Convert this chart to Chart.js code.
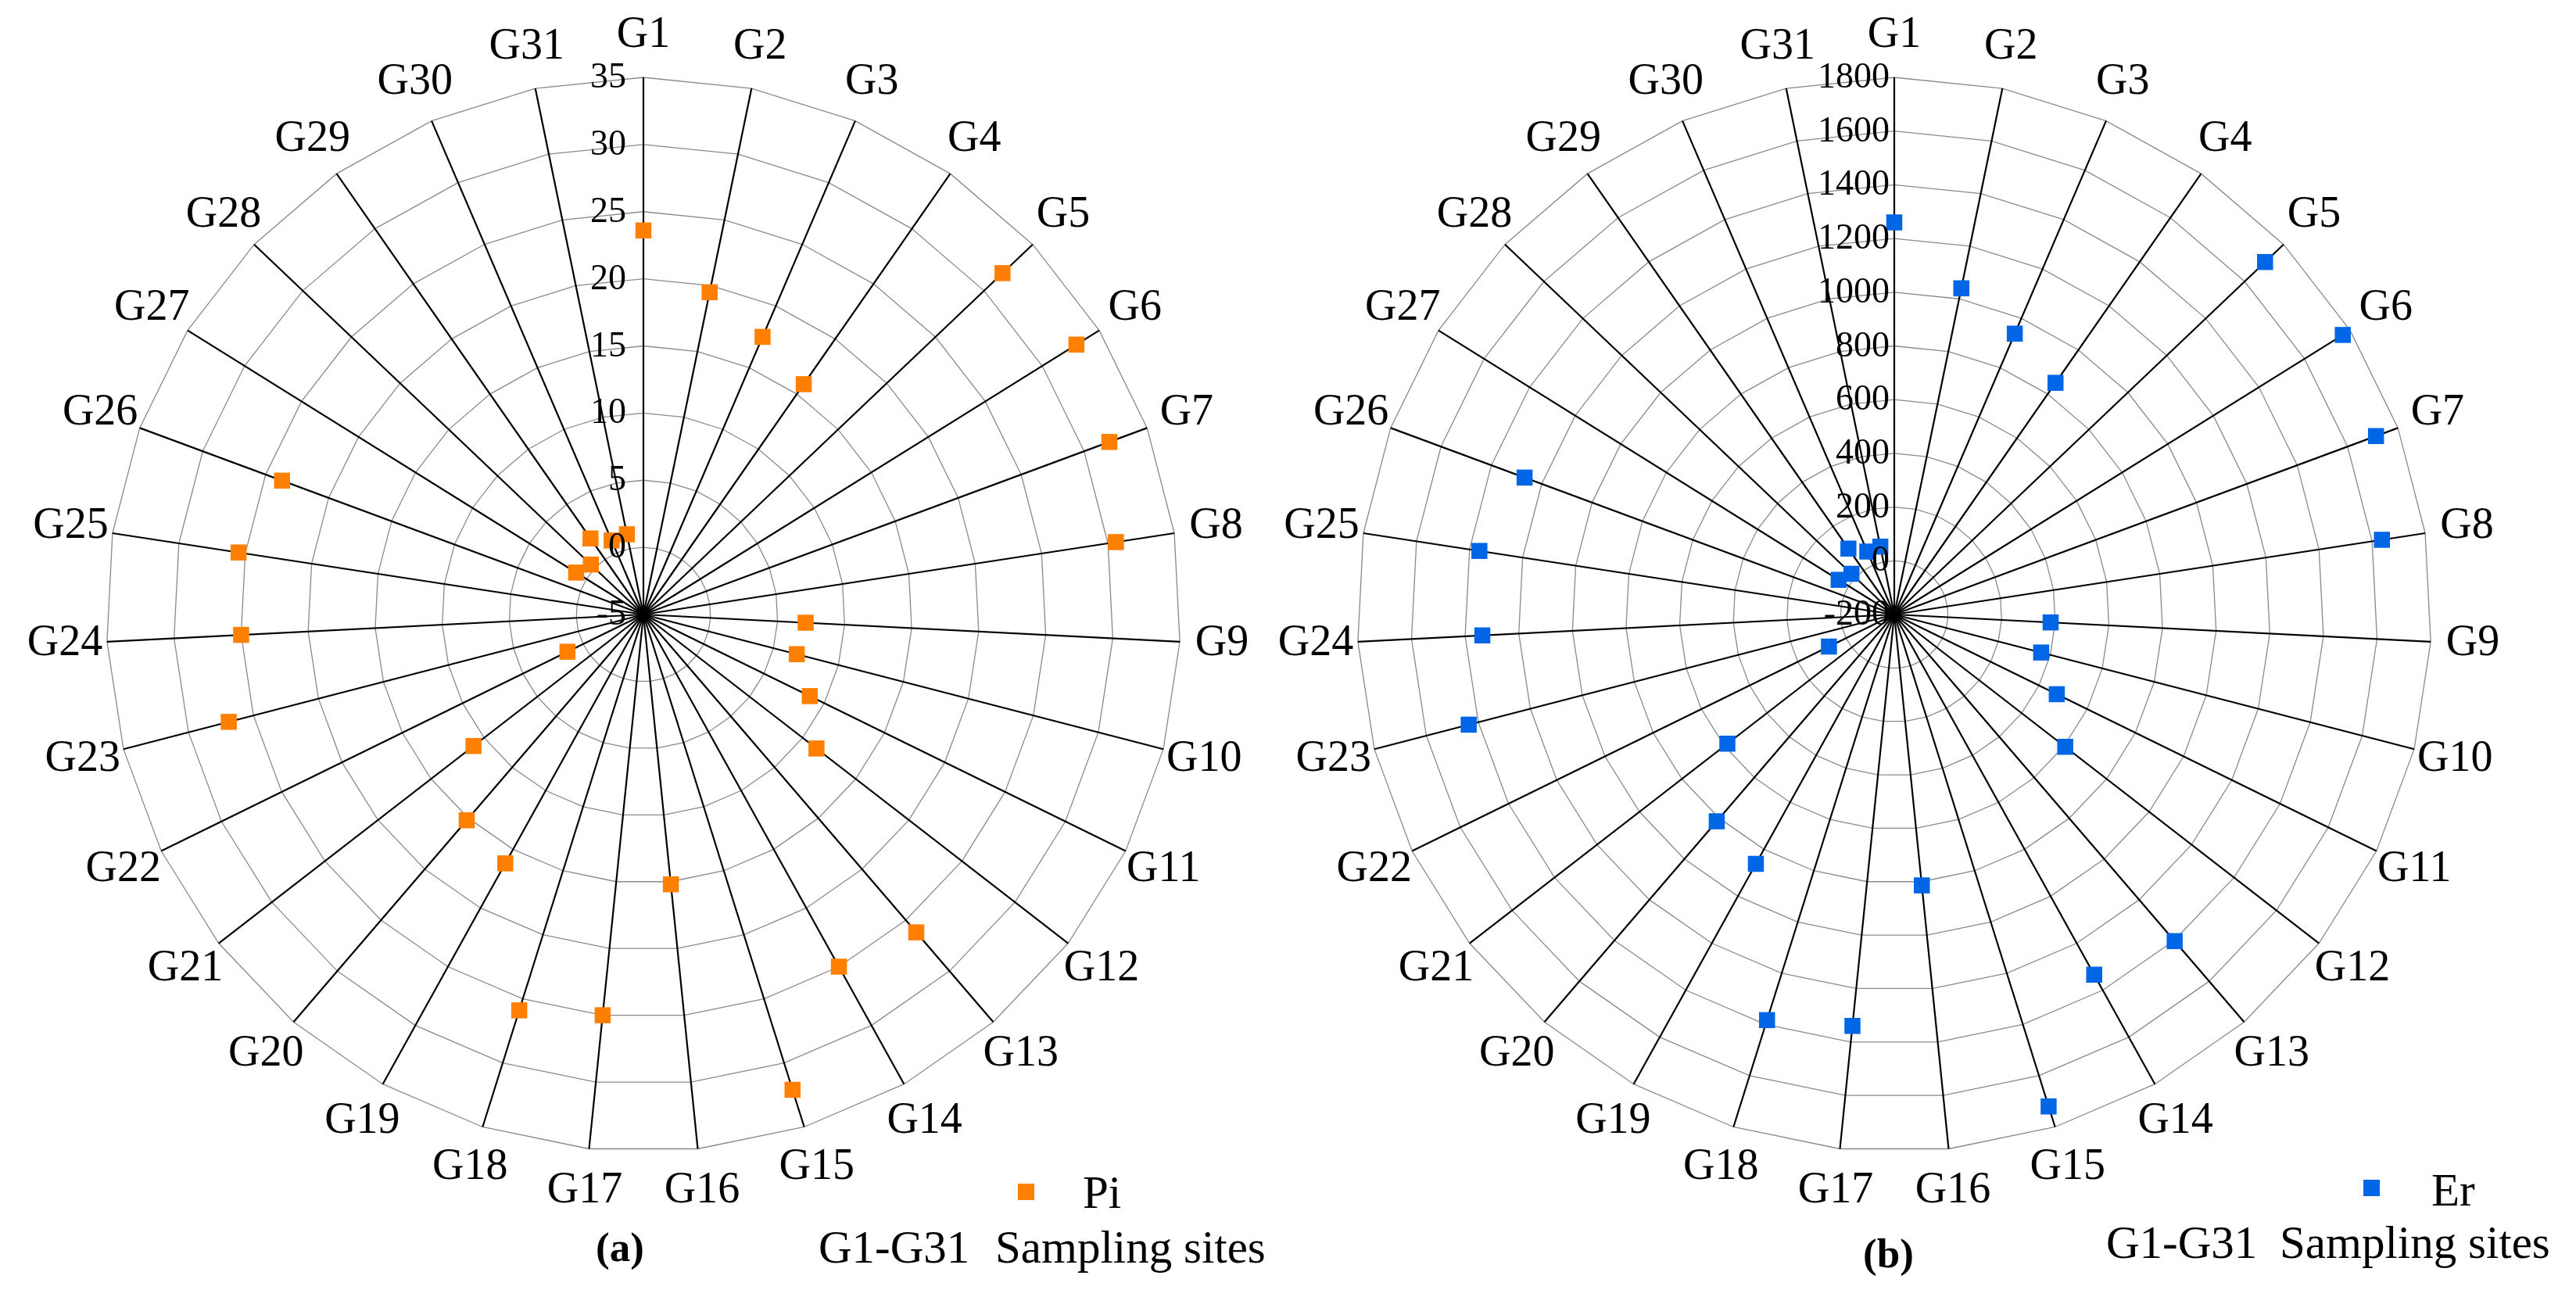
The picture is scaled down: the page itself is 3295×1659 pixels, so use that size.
<!DOCTYPE html>
<html>
<head>
<meta charset="utf-8">
<script src="https://cdn.jsdelivr.net/npm/chart.js@4.4.1/dist/chart.umd.min.js"></script>
<style>
  html, body { margin: 0; padding: 0; background: #fff; }
  body { width: 3295px; height: 1659px; position: relative; overflow: hidden; }
  canvas { position: absolute; top: 0; }
  .t { position: absolute; font-family: 'Liberation Serif', 'DejaVu Serif', serif; font-size: 59px; line-height: 1; color: #000; white-space: nowrap; }
  .b { font-weight: bold; font-size: 53px; }
  .sq { position: absolute; width: 21px; height: 21px; }
</style>
</head>
<body>
<canvas id="c1" width="1646" height="1659" style="left:0px"></canvas>
<canvas id="c2" width="1695" height="1659" style="left:1600px"></canvas>

<div class="sq" style="left:1302px;top:1514px;background:#FF7F00"></div>
<div class="t" style="left:1385px;top:1496px">Pi</div>
<div class="t" style="left:1047px;top:1566px">G1-G31</div>
<div class="t" style="left:1273px;top:1566px">Sampling sites</div>
<div class="t b" style="left:762px;top:1569px">(a)</div>

<div class="sq" style="left:3023px;top:1509px;background:#0066E5"></div>
<div class="t" style="left:3110px;top:1493px">Er</div>
<div class="t" style="left:2694px;top:1560px">G1-G31</div>
<div class="t" style="left:2916px;top:1560px">Sampling sites</div>
<div class="t b" style="left:2383px;top:1577px">(b)</div>

<script>
// ---------- data ----------
const categories = ['G1','G2','G3','G4','G5','G6','G7','G8','G9','G10','G11','G12','G13','G14','G15','G16',
                    'G17','G18','G19','G20','G21','G22','G23','G24','G25','G26','G27','G28','G29','G30','G31'];
const piValues = [23.6, 19.5, 17.5, 15.9, 31.9, 33.0, 32.0, 30.6, 7.1, 6.8, 8.8, 11.3, 26.2, 25.0, 32.1, 15.2,
                  25.0, 25.9, 16.2, 15.2, 11.0, 1.3, 26.9, 25.0, 25.5, 23.7, 0.9, 0.4, 1.9, 1.0, 1.1];
const erValues = [1260, 1040, 938, 851, 1705, 1768, 1713, 1637, 383, 365, 474, 605, 1403, 1334, 1720, 814,
                  1340, 1383, 862, 815, 586, 71, 1437, 1336, 1363, 1268, 44, 20, 99, 55, 58];
const piTicks = [-5, 0, 5, 10, 15, 20, 25, 30, 35];
const erTicks = [-200, 0, 200, 400, 600, 800, 1000, 1200, 1400, 1600, 1800];

const FONT = "'Liberation Serif', 'DejaVu Serif', serif";

function labelPlugin(ticks, tickGap) {
  return {
    id: 'customLabels',
    afterDraw(chart) {
      const s = chart.scales.r;
      const ctx = chart.ctx;
      ctx.save();
      ctx.fillStyle = '#000';
      // tick labels, right-aligned left of the G1 axis
      ctx.font = '46px ' + FONT;
      ctx.textAlign = 'right';
      ctx.textBaseline = 'middle';
      ticks.forEach(v => {
        const d = s.getDistanceFromCenterForValue(v);
        ctx.fillText(String(v), s.xCenter - tickGap, s.yCenter - d + 1);
      });
      // point labels
      ctx.font = '56px ' + FONT;
      ctx.textAlign = 'center';
      ctx.textBaseline = 'middle';
      categories.forEach((c, i) => {
        const p = s.getPointPosition(i, s.drawingArea + 54);
        ctx.fillText(c, p.x, p.y);
      });
      ctx.restore();
    }
  };
}

function makeChart(id, values, ticks, min, max, step, color, name, rightPad, tickGap) {
  return new Chart(document.getElementById(id), {
    type: 'radar',
    data: {
      labels: categories,
      datasets: [{
        label: name,
        data: values,
        showLine: false,
        fill: false,
        pointStyle: 'rect',
        pointRadius: 14.5,
        pointHoverRadius: 14.5,
        pointBackgroundColor: color,
        pointBorderWidth: 0,
        borderWidth: 0,
        backgroundColor: color,
        borderColor: color
      }]
    },
    options: {
      responsive: false,
      devicePixelRatio: 1,
      animation: false,
      events: [],
      layout: { padding: { left: 136, top: 99, right: rightPad, bottom: 186 } },
      plugins: { legend: { display: false }, tooltip: { enabled: false } },
      scales: {
        r: {
          min: min,
          max: max,
          startAngle: 0,
          beginAtZero: false,
          ticks: { stepSize: step, display: false },
          grid: { color: '#8a8a8a', lineWidth: 1.3, circular: false },
          angleLines: { display: true, color: '#000', lineWidth: 2.2 },
          pointLabels: { display: false }
        }
      }
    },
    plugins: [labelPlugin(ticks, tickGap)]
  });
}

makeChart('c1', piValues, piTicks, -5, 35, 5, '#FF7F00', 'Pi', 136, 22);
makeChart('c2', erValues, erTicks, -200, 1800, 200, '#0066E5', 'Er', 185, 6);
</script>
</body>
</html>
